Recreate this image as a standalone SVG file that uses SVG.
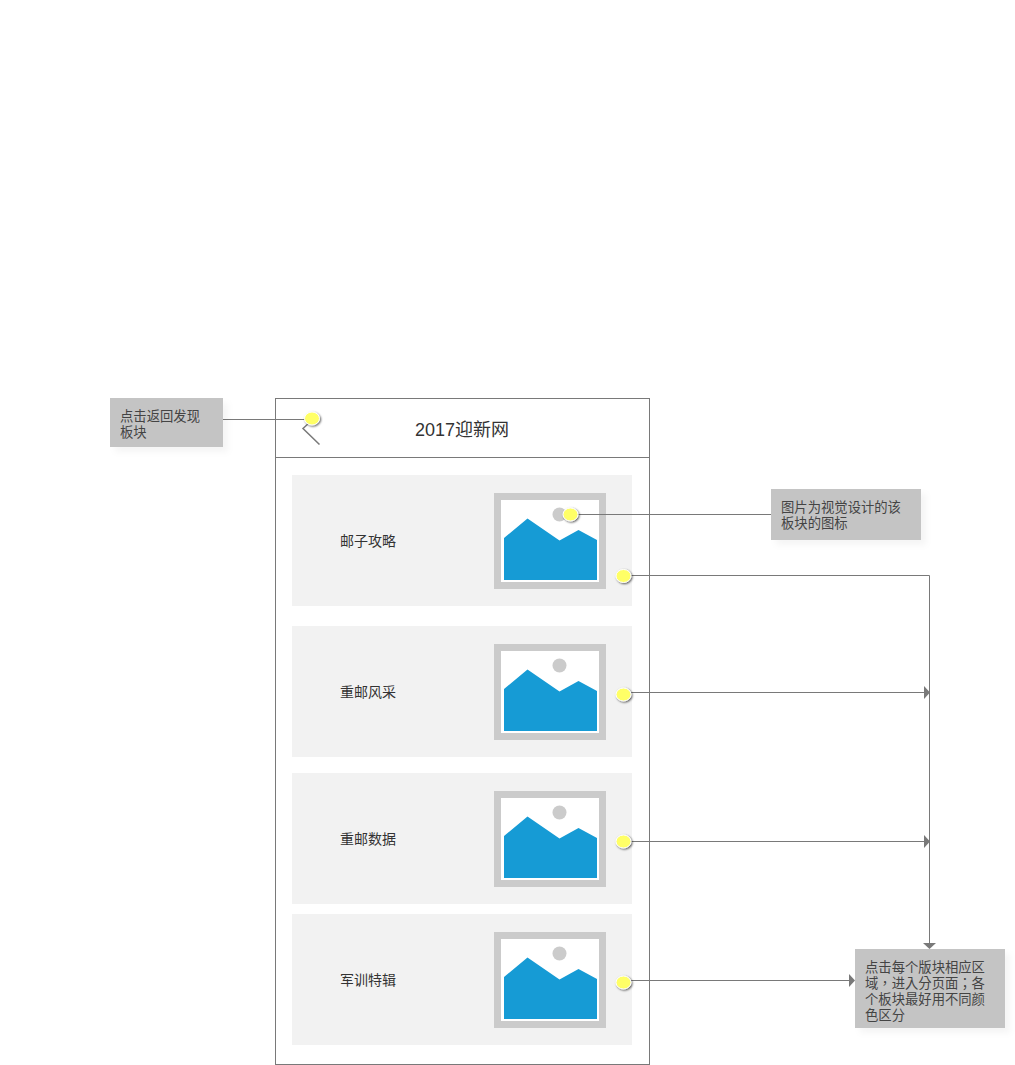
<svg xmlns="http://www.w3.org/2000/svg" width="1015" height="1065" viewBox="0 0 1015 1065">
<style>
text{font-family:"Liberation Sans","Noto Sans CJK SC",sans-serif;fill:#333}
.t{font-size:14px}
.n{font-size:13.330px;fill:#444}
.p{font-family:"Liberation Sans","Noto Sans CJK TC",sans-serif}
.c{fill:none;stroke:#797979;stroke-width:1}
.a{fill:#797979}
.card{fill:#f2f2f2}
.note{fill:#c4c4c4;filter:url(#ns)}
.dot{fill:#ffff66;stroke:#fff;stroke-width:1;filter:url(#ds)}
</style>
<defs>
<filter id="ns" x="-10%" y="-20%" width="125%" height="150%"><feDropShadow dx="5" dy="5" stdDeviation="3" flood-color="#000" flood-opacity="0.04"/></filter>
<filter id="ds" x="-50%" y="-50%" width="220%" height="220%"><feDropShadow dx="1" dy="1" stdDeviation="1" flood-color="#000" flood-opacity="0.65"/></filter>
<g id="pic">
<rect x="494" y="0" width="112" height="96" fill="#cbcbcb"/>
<rect x="501" y="7" width="98" height="82" fill="#fff"/>
<circle cx="559.500" cy="21.500" r="7" fill="#cbcbcb"/>
<path d="M504 45 L527.500 25.500 L559.500 47.500 L578.500 37 L597 47 V87 H504 Z" fill="#169bd5"/>
</g>
</defs>
<g id="phone">
<rect x="275.500" y="398.500" width="374" height="666" fill="#fff" stroke="#797979"/>
<path class="c" d="M275.500 457.500 H649.500"/>
<text x="462" y="436" text-anchor="middle" style="font-size:18px">2017迎新网</text>
<path d="M319.500 444.500 L303 428.500 L309 423" fill="none" stroke="#797979" stroke-width="1.500"/>
</g>
<g id="card1"><rect class="card" x="292" y="475" width="340" height="131"/><text class="t" x="340" y="546">邮子攻略</text><use href="#pic" y="493"/></g>
<g id="card2"><rect class="card" x="292" y="626" width="340" height="131"/><text class="t" x="340" y="697">重邮风采</text><use href="#pic" y="644"/></g>
<g id="card3"><rect class="card" x="292" y="773" width="340" height="131"/><text class="t" x="340" y="844">重邮数据</text><use href="#pic" y="791"/></g>
<g id="card4"><rect class="card" x="292" y="914" width="340" height="131"/><text class="t" x="340" y="985">军训特辑</text><use href="#pic" y="932"/></g>
<g id="connectors">
<path class="c" d="M223 419.500 H312"/>
<path class="c" d="M570 514.500 H771"/>
<path class="c" d="M623 575.500 H929.500 V943"/>
<path class="c" d="M623 692.500 H924"/>
<path class="c" d="M623 841.500 H924"/>
<path class="c" d="M623 980.500 H849"/>
<path class="a" d="M924 686 L930 692.500 L924 699 Z"/>
<path class="a" d="M924 835 L930 841.500 L924 848 Z"/>
<path class="a" d="M849 974 L855 980.500 L849 987 Z"/>
<path class="a" d="M923 943 H936 L929.500 949 Z"/>
</g>
<g id="note1"><rect class="note" x="110" y="398" width="113" height="49"/><text class="n" x="120" y="421">点击返回发现</text><text class="n" x="120" y="437">板块</text></g>
<g id="note2"><rect class="note" x="771" y="489" width="150" height="51"/><text class="n" x="781" y="512">图片为视觉设计的该</text><text class="n" x="781" y="528">板块的图标</text></g>
<g id="note3"><rect class="note" x="855" y="949" width="150" height="79"/><text class="n" x="865" y="972">点击每个版块相应区</text><text class="n p" x="865" y="988">域，进入分页面；各</text><text class="n" x="865" y="1004">个板块最好用不同颜</text><text class="n" x="865" y="1020">色区分</text></g>
<g id="markers">
<ellipse class="dot" cx="312" cy="418.500" rx="7.500" ry="6.500"/>
<ellipse class="dot" cx="570.500" cy="514.500" rx="7.500" ry="6.500"/>
<ellipse class="dot" cx="623.500" cy="576" rx="7.500" ry="6.500"/>
<ellipse class="dot" cx="623.500" cy="694.500" rx="7.500" ry="6.500"/>
<ellipse class="dot" cx="623.500" cy="841.500" rx="7.500" ry="6.500"/>
<ellipse class="dot" cx="623.500" cy="982.500" rx="7.500" ry="6.500"/>
</g>
</svg>
